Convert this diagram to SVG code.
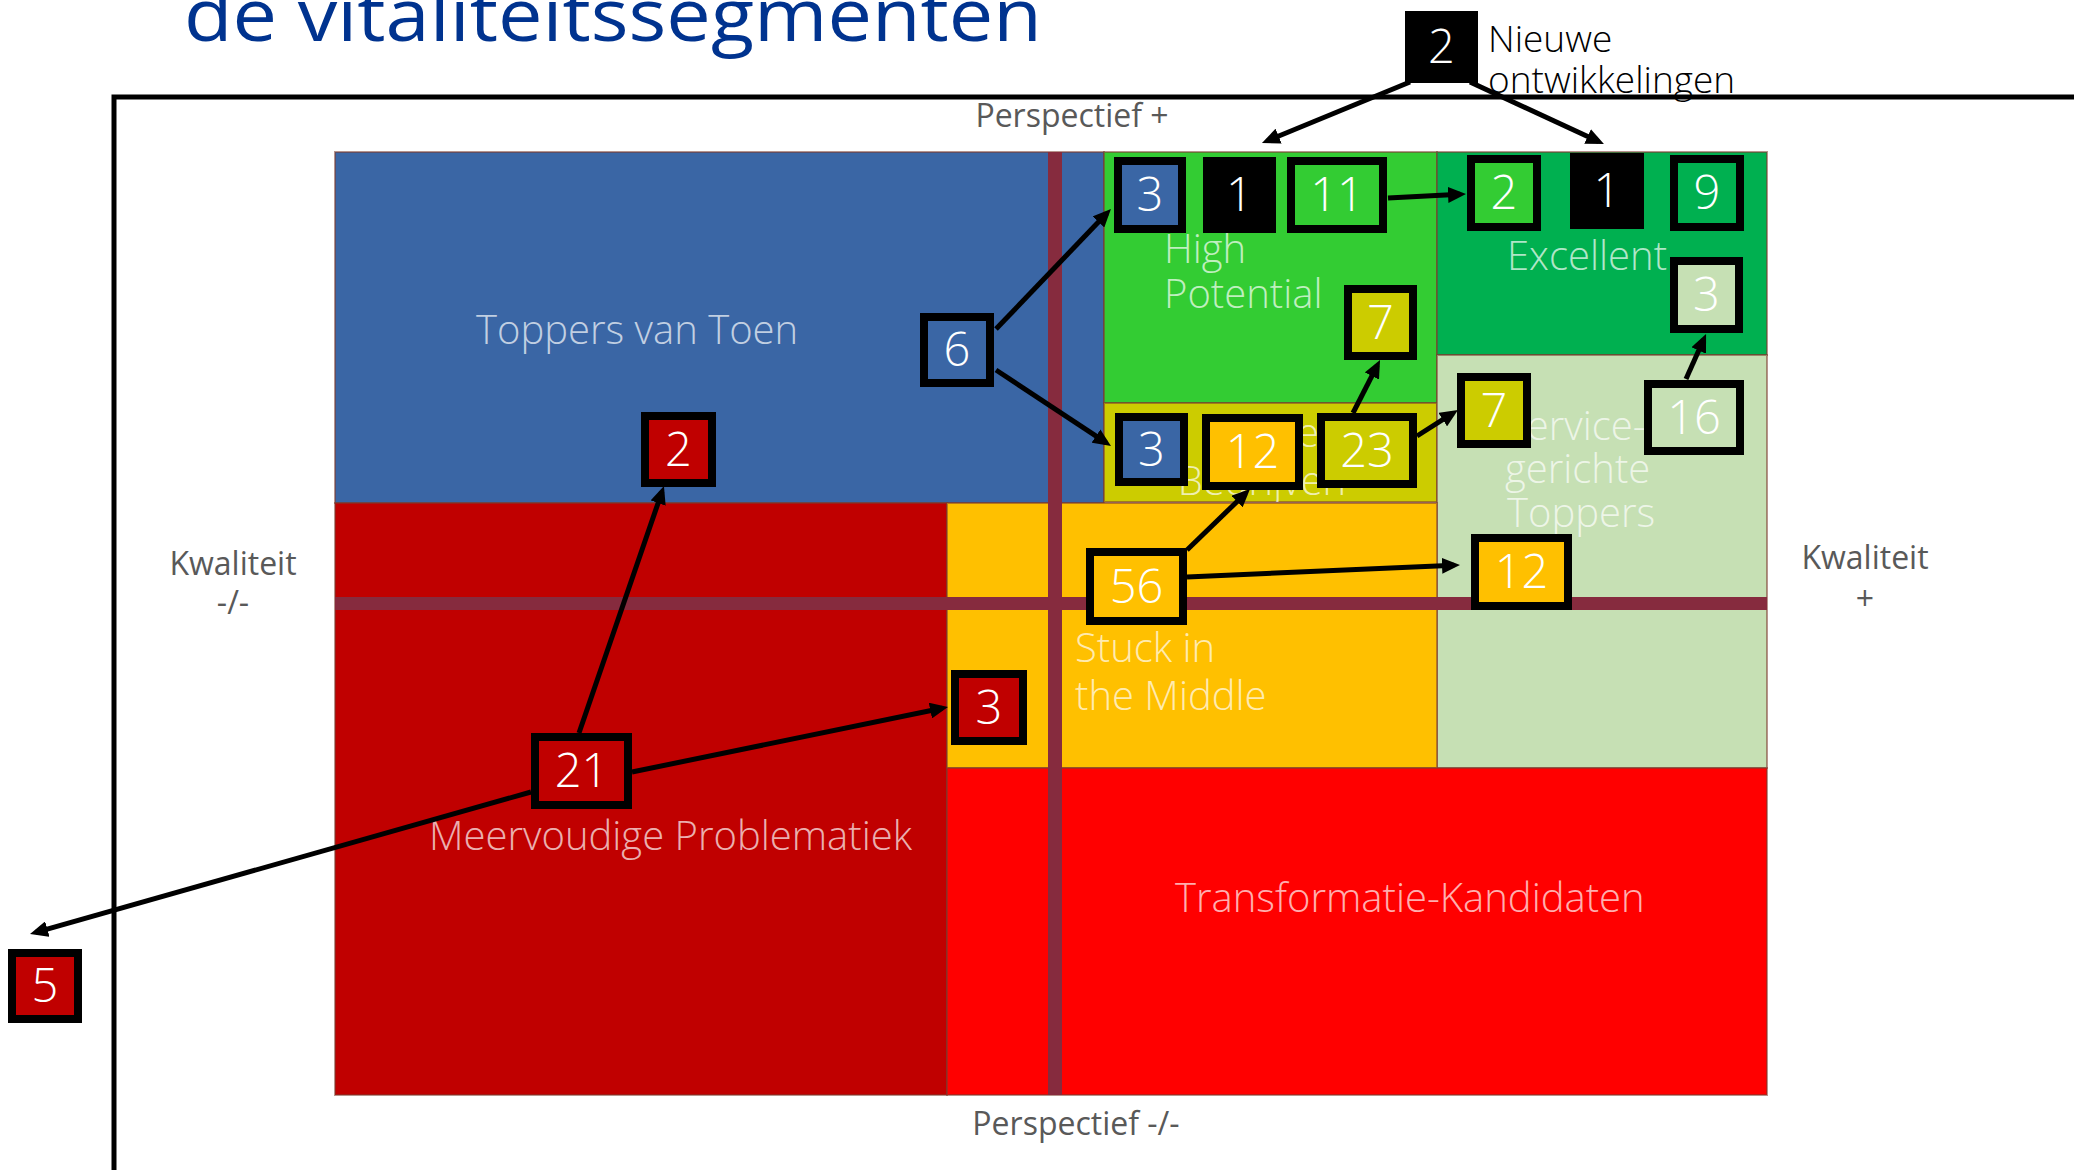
<svg xmlns="http://www.w3.org/2000/svg" width="2074" height="1170" viewBox="0 0 2074 1170">
<style>
.reg{stroke:#7b3b2e;stroke-opacity:0.55;stroke-width:2}
.band{fill:#862B3E}
.lbl{font-family:"Open Sans","Liberation Sans",sans-serif;font-weight:300;font-size:40px;fill:#ffffff;fill-opacity:0.7}
.axis{font-family:"Open Sans","Liberation Sans",sans-serif;font-size:32px;fill:#595959}
.box{stroke:#000;stroke-width:8}
.num{font-family:"Open Sans","Liberation Sans",sans-serif;font-weight:300;font-size:47px;fill:#fff;text-anchor:middle}
.con{stroke:#000;stroke-width:5;fill:none;marker-end:url(#ah)}
.blue{fill:#3A66A5}.dred{fill:#C00000}.org{fill:#FFC000}.hp{fill:#33CC33}.ex{fill:#00B050}.lg{fill:#C6E0B4}.ol{fill:#CCCC00}.blk{fill:#000}
</style>
<defs>
<marker id="ah" viewBox="0 0 18 16" refX="12" refY="8" markerWidth="18" markerHeight="16" markerUnits="userSpaceOnUse" orient="auto">
<path d="M0,0 L18,8 L0,16 z" fill="#000"/>
</marker>
<clipPath id="sbclip"><rect x="1104" y="403" width="333" height="99"/></clipPath>
</defs>
<rect width="2074" height="1170" fill="#fff"/>
<text x="184" y="41" textLength="858" lengthAdjust="spacingAndGlyphs" font-family="'Open Sans','Liberation Sans',sans-serif" font-size="74" fill="#00338F">de vitaliteitssegmenten</text>
<path d="M114,1170 V97 H2074" fill="none" stroke="#000" stroke-width="5"/>

<g id="regions">
<g id="toppers-van-toen"><rect class="reg blue" x="335" y="152" width="769" height="351"/></g>
<g id="high-potential"><rect class="reg hp" x="1104" y="152" width="333" height="251"/></g>
<g id="sterke-bedrijven"><rect class="reg ol" x="1104" y="403" width="333" height="99"/></g>
<g id="excellent"><rect class="reg ex" x="1437" y="152" width="330" height="203"/></g>
<g id="servicegerichte-toppers"><rect class="reg lg" x="1437" y="355" width="330" height="413"/></g>
<g id="meervoudige-problematiek"><rect class="reg dred" x="335" y="503" width="612" height="592"/></g>
<g id="stuck-in-the-middle"><rect class="reg org" x="947" y="503" width="490" height="265"/></g>
<g id="transformatie-kandidaten"><rect class="reg" fill="#FF0000" x="947" y="768" width="820" height="327"/></g>
<rect class="band" x="1048" y="152" width="14" height="943"/>
<rect class="band" x="335" y="597" width="1432" height="13"/>
</g>

<g id="region-labels">
<text class="lbl" x="476" y="344">Toppers van Toen</text>
<text class="lbl" x="1164" y="263">High</text>
<text class="lbl" x="1164" y="308">Potential</text>
<text class="lbl" x="1507" y="270">Excellent</text>
<g clip-path="url(#sbclip)">
<text class="lbl" x="1262" y="447" text-anchor="middle">Sterke</text>
<text class="lbl" x="1262" y="495" text-anchor="middle">Bedrijven</text>
</g>
<text class="lbl" x="1505" y="440">Service-</text>
<text class="lbl" x="1505" y="483">gerichte</text>
<text class="lbl" x="1507" y="527">Toppers</text>
<text class="lbl" x="1075" y="662">Stuck in</text>
<text class="lbl" x="1075" y="710">the Middle</text>
<text class="lbl" x="429" y="850">Meervoudige Problematiek</text>
<text class="lbl" x="1175" y="912">Transformatie-Kandidaten</text>
</g>

<g id="axis-labels">
<text class="axis" x="1072" y="127" text-anchor="middle">Perspectief +</text>
<text class="axis" x="1076" y="1135" text-anchor="middle">Perspectief -/-</text>
<text class="axis" x="233" y="575" text-anchor="middle">Kwaliteit</text>
<text class="axis" x="233" y="614" text-anchor="middle">-/-</text>
<text class="axis" x="1865" y="569" text-anchor="middle">Kwaliteit</text>
<text class="axis" x="1865" y="610" text-anchor="middle">+</text>
<text x="1488" y="52" font-family="'Open Sans','Liberation Sans',sans-serif" font-weight="300" font-size="37" fill="#000">Nieuwe</text>
<text x="1488" y="93" font-family="'Open Sans','Liberation Sans',sans-serif" font-weight="300" font-size="37" fill="#000">ontwikkelingen</text>
</g>

<g id="connectors">
<line class="con" x1="1410" y1="82" x2="1267.5" y2="140.7"/>
<line class="con" x1="1470" y1="82" x2="1598.5" y2="141.5"/>
<line class="con" x1="1388" y1="198" x2="1460" y2="194.3"/>
<line class="con" x1="996" y1="329" x2="1106.8" y2="213.3"/>
<line class="con" x1="996" y1="370" x2="1106" y2="442.7"/>
<line class="con" x1="1353" y1="413" x2="1377.3" y2="365.3"/>
<line class="con" x1="1417" y1="436" x2="1452.9" y2="413.2"/>
<line class="con" x1="1686" y1="379" x2="1703.6" y2="339.5"/>
<line class="con" x1="1187" y1="550" x2="1245.7" y2="493.2"/>
<line class="con" x1="1187" y1="577" x2="1454" y2="565.3"/>
<line class="con" x1="579" y1="733" x2="662" y2="491.7"/>
<line class="con" x1="632" y1="772" x2="942.1" y2="708.2"/>
<line class="con" x1="531" y1="792" x2="35.8" y2="932.3"/>
</g>

<g id="n-top2"><rect class="box blk" x="1409" y="15" width="65" height="64"/><text class="num" x="1441.5" y="63" font-size="48">2</text></g>
<g id="n-hp3"><rect class="box blue" x="1118" y="161" width="64" height="68"/><text class="num" x="1150" y="211">3</text></g>
<g id="n-hp1"><rect class="box blk" x="1207" y="161" width="65" height="68"/><text class="num" x="1239.5" y="211">1</text></g>
<g id="n-hp11"><rect class="box hp" x="1291" y="161" width="92" height="68"/><text class="num" x="1337" y="211">11</text></g>
<g id="n-ex2"><rect class="box hp" x="1471" y="159" width="66" height="68"/><text class="num" x="1504" y="209">2</text></g>
<g id="n-ex1"><rect class="box blk" x="1574" y="157" width="66" height="68"/><text class="num" x="1607" y="207">1</text></g>
<g id="n-ex9"><rect class="box ex" x="1674" y="159" width="66" height="68"/><text class="num" x="1707" y="209">9</text></g>
<g id="n-ex3"><rect class="box lg" x="1674" y="261" width="65" height="68"/><text class="num" x="1706.5" y="311">3</text></g>
<g id="n-hp7"><rect class="box ol" x="1348" y="289" width="65" height="67"/><text class="num" x="1380.5" y="338.5">7</text></g>
<g id="n-sv16"><rect class="box lg" x="1648" y="384" width="92" height="67"/><text class="num" x="1694" y="433.5">16</text></g>
<g id="n-sv7"><rect class="box ol" x="1461" y="377" width="66" height="67"/><text class="num" x="1494" y="426.5">7</text></g>
<g id="n-sb3"><rect class="box blue" x="1119" y="417" width="65" height="65"/><text class="num" x="1151.5" y="465.5">3</text></g>
<g id="n-sb12"><rect class="box org" x="1206" y="418" width="93" height="68"/><text class="num" x="1252.5" y="468">12</text></g>
<g id="n-sb23"><rect class="box ol" x="1321" y="417" width="92" height="67"/><text class="num" x="1367" y="466.5">23</text></g>
<g id="n-tv6"><rect class="box blue" x="924" y="317" width="66" height="66"/><text class="num" x="957" y="366">6</text></g>
<g id="n-tv2"><rect class="box dred" x="645" y="416" width="67" height="67"/><text class="num" x="678.5" y="465.5">2</text></g>
<g id="n-sm56"><rect class="box org" x="1090" y="552" width="93" height="69"/><text class="num" x="1136.5" y="602.5">56</text></g>
<g id="n-mp21"><rect class="box dred" x="535" y="737" width="93" height="68"/><text class="num" x="581.5" y="787">21</text></g>
<g id="n-mp3"><rect class="box dred" x="955" y="674" width="68" height="67"/><text class="num" x="989" y="723.5">3</text></g>
<g id="n-sv12"><rect class="box org" x="1475" y="538" width="93" height="68"/><text class="num" x="1521.5" y="588">12</text></g>
<g id="n-out5"><rect class="box dred" x="12" y="953" width="66" height="66"/><text class="num" x="45" y="1002">5</text></g>
</svg>
